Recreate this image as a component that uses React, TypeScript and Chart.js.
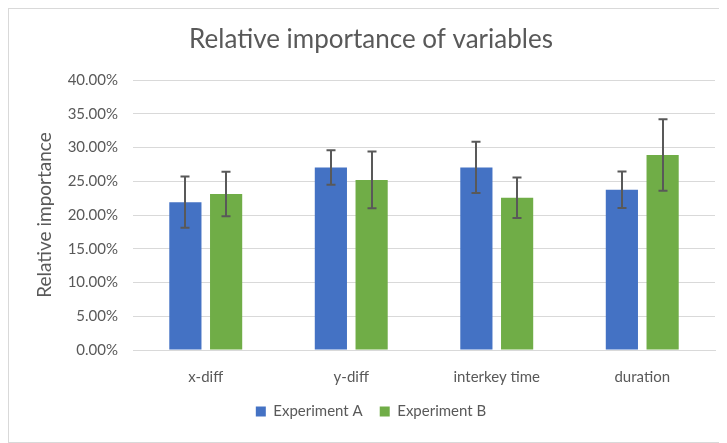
import React, { useEffect, useRef } from "react";
import { Chart, registerables } from "chart.js";

Chart.register(...registerables);

const categories = ["x-diff", "y-diff", "interkey time", "duration"];
const seriesNames = ["Experiment A", "Experiment B"];
const expA = [21.9, 27.05, 27.05, 23.75];
const expAErr = [3.8, 2.55, 3.8, 2.7];
const expB = [23.1, 25.2, 22.55, 28.9];
const expBErr = [3.3, 4.2, 3.0, 5.3];
const yTicks = [0, 5, 10, 15, 20, 25, 30, 35, 40];

const FONT = "Lato, 'Open Sans', sans-serif";
const TXT = "#595959";

const errorBarPlugin = {
  id: "errorBars",
  afterDatasetsDraw(chart: any) {
    const ctx = chart.ctx;
    const yScale = chart.scales.y;
    ctx.save();
    ctx.strokeStyle = "#595959";
    ctx.lineWidth = 2;
    chart.data.datasets.forEach((ds: any, di: number) => {
      const meta = chart.getDatasetMeta(di);
      meta.data.forEach((bar: any, i: number) => {
        const v = ds.data[i];
        const e = ds.errors[i];
        const x = Math.round(bar.x);
        const yTop = yScale.getPixelForValue(v + e);
        const yBot = yScale.getPixelForValue(v - e);
        ctx.beginPath();
        ctx.moveTo(x, yTop);
        ctx.lineTo(x, yBot);
        ctx.moveTo(x - 4.5, yTop);
        ctx.lineTo(x + 4.5, yTop);
        ctx.moveTo(x - 4.5, yBot);
        ctx.lineTo(x + 4.5, yBot);
        ctx.stroke();
      });
    });
    ctx.restore();
  },
};

export default function App() {
  const ref = useRef<HTMLCanvasElement>(null);
  useEffect(() => {
    if (!ref.current) return;
    const chart = new Chart(ref.current, {
      type: "bar",
      data: {
        labels: categories,
        datasets: [
          {
            label: seriesNames[0],
            data: expA,
            errors: expAErr,
            backgroundColor: "#4472C4",
            barPercentage: 0.79,
            categoryPercentage: 0.56,
          } as any,
          {
            label: seriesNames[1],
            data: expB,
            errors: expBErr,
            backgroundColor: "#70AD47",
            barPercentage: 0.79,
            categoryPercentage: 0.56,
          } as any,
        ],
      },
      options: {
        animation: false,
        responsive: false,
        maintainAspectRatio: false,
        layout: { padding: { left: 18, right: 8, top: 0, bottom: 13 } },
        plugins: {
          title: {
            display: true,
            text: "Relative importance of variables",
            color: TXT,
            font: { family: FONT, size: 26, weight: "normal" },
            padding: { top: 15, bottom: 24.8 },
          },
          legend: {
            position: "bottom",
            labels: {
              color: TXT,
              font: { family: FONT, size: 15 },
              boxWidth: 10,
              boxHeight: 10,
              padding: 17,
            },
          },
          tooltip: { enabled: false },
        },
        scales: {
          x: {
            grid: { display: false, drawTicks: false },
            border: { display: true, color: "#d9d9d9" },
            ticks: { color: TXT, font: { family: FONT, size: 15 }, padding: 18 },
            afterFit: (s: any) => {
              s.height = 37;
            },
          },
          y: {
            min: 0,
            max: 40,
            afterBuildTicks: (s: any) => {
              s.ticks = yTicks.map((v) => ({ value: v }));
            },
            afterFit: (s: any) => {
              s.width = 106;
            },
            grid: { color: "#d9d9d9", drawTicks: false },
            border: { display: false },
            ticks: {
              color: TXT,
              font: { family: FONT, size: 15 },
              padding: 15,
              callback: (v: any) => Number(v).toFixed(2) + "%",
            },
            title: {
              display: true,
              text: "Relative importance",
              color: TXT,
              font: { family: FONT, size: 19 },
              padding: { top: 6.6, bottom: 0 },
            },
          },
        },
      },
      plugins: [errorBarPlugin],
    } as any);
    return () => chart.destroy();
  }, []);
  return (
    <div style={{ width: 714, height: 433, border: "1px solid #d9d9d9" }}>
      <canvas ref={ref} width={714} height={433} />
    </div>
  );
}
